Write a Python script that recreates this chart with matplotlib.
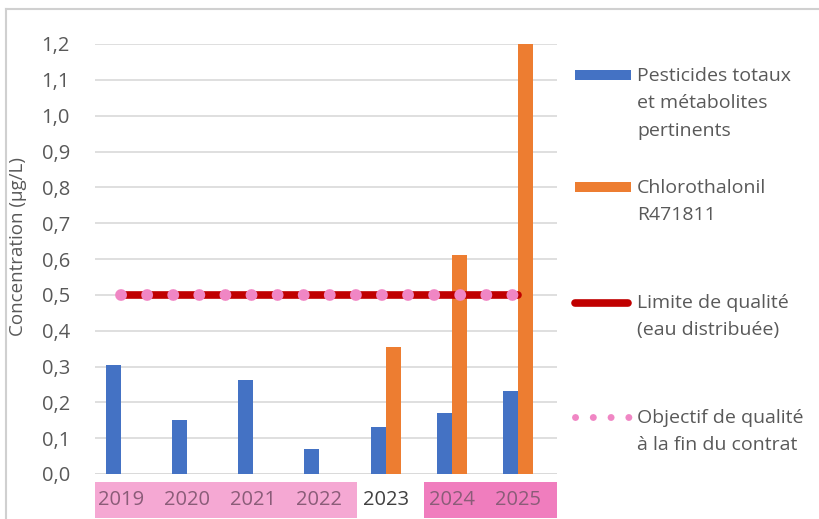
import numpy as np
import matplotlib
matplotlib.use("Agg")
import matplotlib.pyplot as plt
from matplotlib.patches import Rectangle
from matplotlib.lines import Line2D
import matplotlib.transforms as mtransforms

plt.rcParams['font.family'] = ['Open Sans', 'DejaVu Sans']

years = ["2019", "2020", "2021", "2022", "2023", "2024", "2025"]
pesticides = [0.305, 0.151, 0.263, 0.070, 0.130, 0.170, 0.233]
chlorothalonil = [0, 0, 0, 0, 0.355, 0.610, 1.200]
limite = [0.5] * 7
objectif = [0.5] * 7

labels = ["Pesticides totaux\net métabolites\npertinents",
          "Chlorothalonil\nR471811",
          "Limite de qualité\n(eau distribuée)",
          "Objectif de qualité\nà la fin du contrat"]

BLUE = "#4472C4"
ORANGE = "#ED7D31"
RED = "#C00000"
PINK = "#F086C4"
GRAY = "#595959"

W, H = 819, 519
fig = plt.figure(figsize=(W / 100, H / 100), dpi=100)
ax = fig.add_axes([95 / W, (H - 474) / H, (557 - 95) / W, (474 - 44) / H])

x = np.arange(len(years))
bw = 0.227
ax.bar(x - bw / 2, pesticides, bw, color=BLUE, zorder=2)
ax.bar(x + bw / 2, chlorothalonil, bw, color=ORANGE, zorder=2)
ax.plot(x, limite, color=RED, lw=5.5, solid_capstyle='round', zorder=3)
ax.plot(x, objectif, color=PINK, lw=8.5, linestyle=(0, (0.01, 2.2)),
        dash_capstyle='round', zorder=4)

ax.set_xlim(-0.39, 6.59)
ax.set_ylim(0, 1.2)
ticks = np.arange(0, 1.21, 0.1)
ax.set_yticks(ticks)
ax.set_yticklabels([f"{v:.1f}".replace(".", ",") for v in ticks])
ax.yaxis.grid(True, color="#D9D9D9", lw=1.2, zorder=0)
ax.set_axisbelow(True)
for s in ax.spines.values():
    s.set_visible(False)
ax.tick_params(axis='y', length=0, pad=18, labelsize=14.5, labelcolor=GRAY)
ax.set_xticks([])
ax.set_ylabel("Concentration (µg/L)", fontsize=13.5, color=GRAY)
ax.yaxis.set_label_coords(-0.147, 0.528)
ax.axhline(0, color="#D9D9D9", lw=1.2, zorder=1)

# coloured year bands under the axis
trans = mtransforms.blended_transform_factory(ax.transData, ax.transAxes)
yb0, yb1 = (474 - 518) / 430, (474 - 482) / 430
ax.add_patch(Rectangle((-0.39, yb0), 3.565 + 0.39, yb1 - yb0, transform=trans,
                       color="#F5A8D3", clip_on=False, lw=0))
ax.add_patch(Rectangle((4.58, yb0), 6.59 - 4.58, yb1 - yb0, transform=trans,
                       color="#F07DBE", clip_on=False, lw=0))
for i, yr in enumerate(years):
    c = "#8A5C78" if i != 4 else "#404040"
    ax.text(i, (yb0 + yb1) / 2, yr, transform=trans, ha='center', va='center',
            fontsize=14.5, color=c)


# legend drawn by hand
def fx(px):
    return px / W


def fy(py):
    return (H - py) / H


fig.add_artist(Rectangle((fx(575), fy(80)), fx(631) - fx(575), 10 / H, color=BLUE, lw=0))
fig.add_artist(Rectangle((fx(575), fy(192)), fx(631) - fx(575), 10 / H, color=ORANGE, lw=0))
fig.add_artist(Line2D([fx(575), fx(628)], [fy(303), fy(303)], color=RED, lw=5.5,
                      solid_capstyle='round'))
fig.add_artist(Line2D([fx(575), fx(630)], [fy(417), fy(417)], color=PINK, lw=5,
                      linestyle=(0, (0.01, 2.55)), dash_capstyle='round'))
for lab, py in zip(labels, [76, 188, 303, 418]):
    for k, line in enumerate(lab.split("\n")):
        fig.text(fx(637), fy(py + k * 27.5), line, ha='left', va='center',
                 fontsize=14, color=GRAY)

# outer frame
fig.add_artist(Line2D([fx(6), 1], [fy(9), fy(9)], color="#D0D0D0", lw=1.5))
fig.add_artist(Line2D([fx(6), fx(6)], [fy(9), 0], color="#D0D0D0", lw=1.5))

fig.savefig("out.png", dpi=100)
